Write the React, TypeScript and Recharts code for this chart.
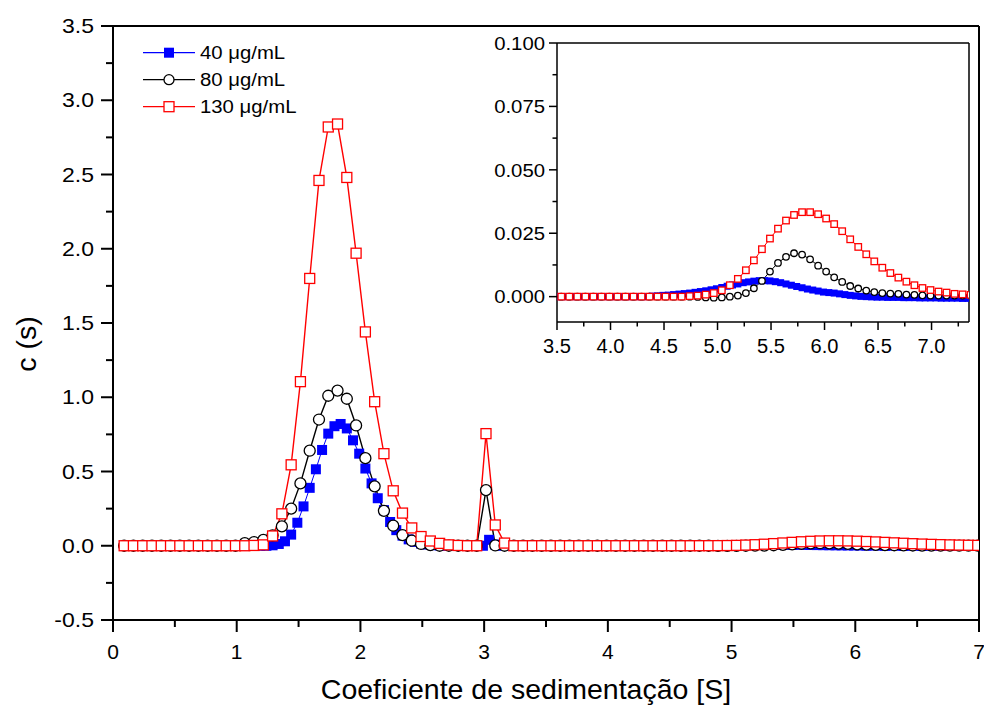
import React from 'react';
import { LineChart, Line, XAxis, YAxis, ReferenceLine } from 'recharts';

const FONT = '"Liberation Sans", Arial, Helvetica, sans-serif';

// sampling grid of the sedimentation coefficient (S)
const X_START = 0.09;
const STEP_40 = 0.05;
const STEP_80_130 = 0.075;

// c(s) for 40 µg/mL (grid step 0.05 S)
const C40 = [
  0, 0, 0, 0, 0, 0, 0, 0, 0, 0, 0, 0, 0, 0, 0, 0, 0, 0, 0, 0, 0, 0, 0, 0,
  0.003, 0.012, 0.03, 0.075, 0.155, 0.265, 0.39, 0.515, 0.645, 0.755, 0.805, 0.82, 0.79, 0.71,
  0.62, 0.52, 0.42, 0.32, 0.24, 0.16, 0.105, 0.068, 0.043, 0.026, 0.015, 0.008, 0.004, 0.002,
  0, 0, 0, 0, 0, 0, 0,
  0.04, 0.008,
  0, 0, 0, 0, 0, 0, 0, 0, 0, 0, 0, 0, 0, 0, 0, 0, 0, 0, 0, 0, 0, 0, 0, 0, 0,
  0.0002, 0.0003, 0.0005, 0.0006, 0.0008, 0.001, 0.0012, 0.0014, 0.0017, 0.002, 0.0023, 0.0027,
  0.0031, 0.0036, 0.0041, 0.0046, 0.005, 0.0055, 0.0058, 0.0061, 0.0063, 0.0063, 0.0062, 0.0059,
  0.0055, 0.005, 0.0045, 0.004, 0.0035, 0.003, 0.0026, 0.0022, 0.0018, 0.0016, 0.0014, 0.0011,
  0.0008, 0.0005, 0.0003, 0.0001, 0, -0.0001,
  -0.0002, -0.0002, -0.0003, -0.0003, -0.0003, -0.0004, -0.0004, -0.0004, -0.0005, -0.0005,
  -0.0005, -0.0005, -0.0006, -0.0006, -0.0006, -0.0006, -0.0007, -0.0007,
];

// c(s) for 80 µg/mL (grid step 0.075 S)
const C80 = [
  0, 0, 0, 0, 0, 0, 0, 0, 0, 0, 0, 0, 0,
  0.018, 0.025, 0.04, 0.07, 0.13, 0.25, 0.42, 0.64, 0.85, 1.01, 1.045, 0.99, 0.81, 0.59, 0.4,
  0.235, 0.135, 0.072, 0.034, 0.012, 0.004, 0, 0, 0, 0, 0, 0.375, 0.002,
  0, 0, 0, 0, 0, 0, 0, 0, 0, 0, 0, 0, 0, 0, 0, 0, 0, 0, 0, 0, 0, 0,
  -0.0001, -0.0003, -0.0004, -0.0003, 0, 0.0004, 0.0014, 0.0033, 0.0062, 0.0099, 0.0133, 0.0157,
  0.0171, 0.0166, 0.0147, 0.0122, 0.0099, 0.0076, 0.0058, 0.0042, 0.0032, 0.0024, 0.0018, 0.0014,
  0.0012, 0.0011, 0.0008, 0.0007, 0.0005,
  0.0004, 0.0004, 0.0004, 0.0004, 0.0004, 0.0004,
];

// c(s) for 130 µg/mL (grid step 0.075 S)
const C130 = [
  0, 0, 0, 0, 0, 0, 0, 0, 0, 0, 0, 0, 0, 0,
  0.002, 0.006, 0.066, 0.215, 0.545, 1.105, 1.8, 2.46, 2.82, 2.84, 2.48, 1.97, 1.44, 0.97,
  0.62, 0.37, 0.22, 0.12, 0.062, 0.032, 0.016, 0.006, 0.002, 0, 0, 0.755, 0.14, 0.018,
  0, 0, 0, 0, 0, 0, 0, 0, 0, 0, 0, 0, 0, 0, 0, 0, 0, 0, 0, 0,
  0.0002, 0.0004, 0.0008, 0.0014, 0.0025, 0.0045, 0.007, 0.0104, 0.0143, 0.0187, 0.0229, 0.0268,
  0.03, 0.0322, 0.0333, 0.0333, 0.0325, 0.0308, 0.0286, 0.0258, 0.0226, 0.0196, 0.0167, 0.0139,
  0.0114, 0.0093, 0.0075, 0.0059, 0.0045, 0.0034, 0.0026, 0.002, 0.0016, 0.0011, 0.0009, 0.0007,
];

const MAIN_X_TICKS = [0, 1, 2, 3, 4, 5, 6, 7];
const MAIN_X_MINOR = [0.5, 1.5, 2.5, 3.5, 4.5, 5.5, 6.5];
const MAIN_Y_TICKS = [-0.5, 0, 0.5, 1, 1.5, 2, 2.5, 3, 3.5];
const MAIN_Y_MINOR = [-0.25, 0.25, 0.75, 1.25, 1.75, 2.25, 2.75, 3.25];
const INSET_X_TICKS = [3.5, 4, 4.5, 5, 5.5, 6, 6.5, 7];
const INSET_X_MINOR = [3.75, 4.25, 4.75, 5.25, 5.75, 6.25, 6.75, 7.25];
const INSET_Y_TICKS = [0, 0.025, 0.05, 0.075, 0.1];
const INSET_Y_MINOR = [0.0125, 0.0375, 0.0625, 0.0875];

const MAIN_X_DOMAIN = [0, 7];
const MAIN_Y_DOMAIN = [-0.5, 3.5];
const INSET_X_DOMAIN = [3.5, 7.35];
const INSET_Y_DOMAIN = [-0.01, 0.1];

const toPoints = (vals: number[], step: number) =>
  vals.map((y, i) => ({ x: +(X_START + step * i).toFixed(3), y }));

const SERIES = [
  { name: '40 μg/mL', color: '#0000ff', kind: 'filled', data: toPoints(C40, STEP_40), size: 10, small: 7, width: 1 },
  { name: '80 μg/mL', color: '#000000', kind: 'circle', data: toPoints(C80, STEP_80_130), size: 11, small: 6.5, width: 1.4 },
  { name: '130 μg/mL', color: '#ff0000', kind: 'square', data: toPoints(C130, STEP_80_130), size: 10, small: 6.5, width: 1.4 },
];

const drawMarker = (kind: string, color: string, size: number, cx: number, cy: number, key?: any) => {
  const h = size / 2;
  if (kind === 'circle')
    return <circle key={key} cx={cx} cy={cy} r={h} fill="#fff" stroke={color} strokeWidth={1.3} />;
  if (kind === 'filled')
    return <rect key={key} x={cx - h} y={cy - h} width={size} height={size} fill={color} />;
  return <rect key={key} x={cx - h} y={cy - h} width={size} height={size} fill="#fff" stroke={color} strokeWidth={1.3} />;
};

const dotFn = (kind: string, color: string, size: number) => (p: any) => {
  if (p.cx == null || p.cy == null || isNaN(p.cy)) return <g key={p.index} />;
  return drawMarker(kind, color, size, p.cx, p.cy, p.index);
};

const isIn = (arr: number[], v: number) => arr.some((m) => Math.abs(m - v) < 1e-9);

// tick with long major / short minor marks, label only on majors
const yTick = (major: number[], fmt: (v: number) => string, o: any) => (p: any) => {
  const { x, y, payload } = p;
  const big = isIn(major, payload.value);
  return (
    <g>
      <line x1={x - (big ? o.major : o.minor)} x2={x} y1={y} y2={y} stroke="#000" strokeWidth={o.sw} />
      {big && (
        <text
          transform={`translate(${x - o.gap},${y + o.fs * 0.36}) scale(${o.sx},1)`}
          textAnchor="end"
          fontSize={o.fs}
          fontFamily={FONT}
          fill="#000"
        >
          {fmt(payload.value)}
        </text>
      )}
    </g>
  );
};

const xTick = (major: number[], fmt: (v: number) => string, o: any) => (p: any) => {
  const { x, y, payload } = p;
  const big = isIn(major, payload.value);
  return (
    <g>
      <line x1={x} x2={x} y1={y} y2={y + (big ? o.major : o.minor)} stroke="#000" strokeWidth={o.sw} />
      {big && (
        <text
          transform={`translate(${x},${y + o.gap}) scale(${o.sx},1)`}
          textAnchor="middle"
          fontSize={o.fs}
          fontFamily={FONT}
          fill="#000"
        >
          {fmt(payload.value)}
        </text>
      )}
    </g>
  );
};

const mainY = { major: 12, minor: 7, sw: 2, gap: 19, fs: 20, sx: 1.15 };
const mainX = { major: 12, minor: 7, sw: 2, gap: 39, fs: 21, sx: 1 };
const insetY = { major: 8, minor: 4.5, sw: 1.5, gap: 12, fs: 19, sx: 1.07 };
const insetX = { major: 8, minor: 4.5, sw: 1.5, gap: 31, fs: 19.5, sx: 1.03 };

const byNum = (a: number, b: number) => a - b;

const MainChart = () => (
  <LineChart width={984} height={706} margin={{ top: 26, right: 5, bottom: 0, left: 0 }}>
    <XAxis
      dataKey="x"
      type="number"
      domain={MAIN_X_DOMAIN}
      allowDataOverflow
      ticks={[...MAIN_X_TICKS, ...MAIN_X_MINOR].sort(byNum)}
      interval={0}
      height={86}
      tickSize={0}
      tickMargin={0}
      tickLine={false}
      axisLine={{ stroke: '#000', strokeWidth: 2 }}
      tick={xTick(MAIN_X_TICKS, (v) => String(v), mainX)}
      label={(p: any) => {
        const vb = p.viewBox;
        return (
          <text x={vb.x + vb.width / 2 - 20} y={vb.y + 79} textAnchor="middle" fontSize={28.5} fontFamily={FONT} fill="#000">
            Coeficiente de sedimentação [S]
          </text>
        );
      }}
    />
    <YAxis
      type="number"
      domain={MAIN_Y_DOMAIN}
      allowDataOverflow
      ticks={[...MAIN_Y_TICKS, ...MAIN_Y_MINOR].sort(byNum)}
      interval={0}
      width={113}
      tickSize={0}
      tickMargin={0}
      tickLine={false}
      axisLine={{ stroke: '#000', strokeWidth: 2 }}
      tick={yTick(MAIN_Y_TICKS, (v) => v.toFixed(1), mainY)}
      label={(p: any) => {
        const vb = p.viewBox;
        const cx = vb.x + 36;
        const cy = vb.y + vb.height / 2 + 21;
        return (
          <text x={cx} y={cy} transform={`rotate(-90,${cx},${cy})`} textAnchor="middle" fontSize={28.5} fontFamily={FONT} fill="#000">
            c (s)
          </text>
        );
      }}
    />
    {/* closing frame on top and right */}
    <ReferenceLine y={MAIN_Y_DOMAIN[1]} stroke="#000" strokeWidth={2} ifOverflow="visible" />
    <ReferenceLine x={MAIN_X_DOMAIN[1]} stroke="#000" strokeWidth={2} ifOverflow="visible" />
    {SERIES.map((s) => (
      <Line
        key={s.name}
        data={s.data}
        dataKey="y"
        type="linear"
        stroke={s.color}
        strokeWidth={s.width}
        dot={dotFn(s.kind, s.color, s.size)}
        activeDot={false}
        isAnimationActive={false}
      />
    ))}
  </LineChart>
);

const InsetChart = () => (
  <LineChart width={500} height={345} margin={{ top: 13, right: 7, bottom: 0, left: 0 }}>
    <XAxis
      dataKey="x"
      type="number"
      domain={INSET_X_DOMAIN}
      allowDataOverflow
      ticks={[...INSET_X_TICKS, ...INSET_X_MINOR].sort(byNum)}
      interval={0}
      height={53}
      tickSize={0}
      tickMargin={0}
      tickLine={false}
      axisLine={{ stroke: '#000', strokeWidth: 1.5 }}
      tick={xTick(INSET_X_TICKS, (v) => v.toFixed(1), insetX)}
    />
    <YAxis
      type="number"
      domain={INSET_Y_DOMAIN}
      allowDataOverflow
      ticks={[...INSET_Y_TICKS, ...INSET_Y_MINOR].sort(byNum)}
      interval={0}
      width={81}
      tickSize={0}
      tickMargin={0}
      tickLine={false}
      axisLine={{ stroke: '#000', strokeWidth: 1.5 }}
      tick={yTick(INSET_Y_TICKS, (v) => v.toFixed(3), insetY)}
    />
    <ReferenceLine y={INSET_Y_DOMAIN[1]} stroke="#000" strokeWidth={1.5} ifOverflow="visible" />
    <ReferenceLine x={INSET_X_DOMAIN[1]} stroke="#000" strokeWidth={1.5} ifOverflow="visible" />
    {SERIES.map((s) => (
      <Line
        key={s.name}
        data={s.data}
        dataKey="y"
        type="linear"
        stroke={s.color}
        strokeWidth={1}
        dot={dotFn(s.kind, s.color, s.small)}
        activeDot={false}
        isAnimationActive={false}
      />
    ))}
  </LineChart>
);

const LegendBox = () => (
  <svg width={300} height={110} style={{ position: 'absolute', left: 130, top: 30 }}>
    {SERIES.map((s, k) => {
      const y = 22.7 + k * 27;
      return (
        <g key={s.name}>
          <line x1={13} x2={65} y1={y} y2={y} stroke={s.color} strokeWidth={1.2} />
          {drawMarker(s.kind, s.color, 10, 39, y)}
          <text transform={`translate(70,${y + 6.5}) scale(1.13,1)`} fontSize={18} fontFamily={FONT} fill="#000">
            {s.name}
          </text>
        </g>
      );
    })}
  </svg>
);

export default function App() {
  return (
    <div style={{ position: 'absolute', left: 0, top: 0, width: 984, height: 706, background: '#fff' }}>
      <MainChart />
      <div style={{ position: 'absolute', left: 476, top: 30 }}>
        <InsetChart />
      </div>
      <LegendBox />
    </div>
  );
}
